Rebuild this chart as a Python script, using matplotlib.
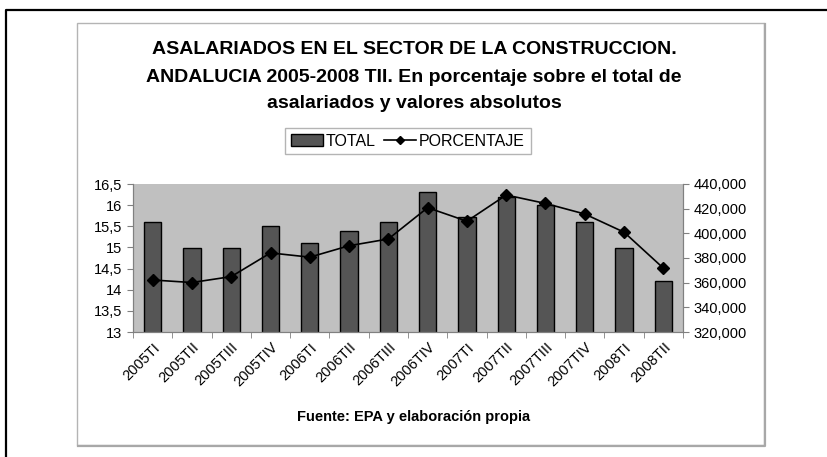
import matplotlib
matplotlib.use("Agg")
import matplotlib.pyplot as plt
from matplotlib.patches import Rectangle
from matplotlib.ticker import FuncFormatter, FixedLocator
from matplotlib.lines import Line2D
import numpy as np

plt.rcParams['font.family'] = ['Liberation Sans', 'DejaVu Sans']

trimestres = ["2005TI", "2005TII", "2005TIII", "2005TIV", "2006TI", "2006TII", "2006TIII",
              "2006TIV", "2007TI", "2007TII", "2007TIII", "2007TIV", "2008TI", "2008TII"]
total = [409000, 388400, 388400, 406000, 392400, 402200, 409000,
         433200, 413000, 429700, 423000, 409000, 388400, 361400]
porcentaje = [14.23, 14.17, 14.31, 14.87, 14.77, 15.04, 15.20,
              15.94, 15.62, 16.24, 16.04, 15.79, 15.36, 14.51]

W, H = 827, 457
fig = plt.figure(figsize=(W / 100, H / 100), dpi=100)

def fx(px):
    return px / W

def fy(py):
    return 1 - py / H

# outer frame (only left and top visible) and inner chart box
fig.lines.append(Line2D([fx(6), fx(6), fx(W)], [fy(H), fy(10), fy(10)],
                        transform=fig.transFigure, color="black", lw=1.6))
fig.patches.append(Rectangle((fx(77), fy(445)), fx(764) - fx(77), fy(23) - fy(445),
                             transform=fig.transFigure, fill=False, ec="#b4b4b4", lw=1.0))
fig.lines.append(Line2D([fx(78), fx(764.5), fx(764.5)], [fy(445.5), fy(445.5), fy(24)],
                        transform=fig.transFigure, color="#a8a8a8", lw=1.6))

ax = fig.add_axes([fx(133), fy(332), fx(683) - fx(133), fy(184) - fy(332)])
ax2 = ax.twinx()
x = np.arange(len(trimestres))

ax.set_facecolor("#c0c0c0")
ax.bar(x, total, width=0.44, color="#555555", edgecolor="black", linewidth=1.0, zorder=2)
ax.set_ylim(320000, 440000)
ax.set_xlim(-0.5, len(trimestres) - 0.5)
ax.set_yticks(np.arange(320000, 440001, 20000))
ax.yaxis.set_major_formatter(FuncFormatter(lambda v, p: f"{int(v):,}"))

ax2.plot(x, porcentaje, color="black", lw=1.2, marker="D", ms=6, zorder=3)
ax2.set_ylim(13, 16.5)
ax2.set_yticks(np.arange(13, 16.51, 0.5))
ax2.yaxis.set_major_formatter(FuncFormatter(lambda v, p: (f"{v:g}").replace(".", ",")))
ax2.patch.set_visible(False)

ax.yaxis.tick_right()
ax2.yaxis.tick_left()

for a in (ax, ax2):
    for s in a.spines.values():
        s.set_color("#808080")
    a.spines["top"].set_visible(False)
    a.tick_params(axis="y", colors="#808080", labelcolor="black", labelsize=10.5, length=4)

ax.set_xticks(x)
ax.set_xticklabels(trimestres, rotation=45, ha="right", rotation_mode="anchor", fontsize=10.5)
ax.tick_params(axis="x", length=0, pad=6)
ax.xaxis.set_minor_locator(FixedLocator(np.arange(-0.5, len(trimestres), 1)))
ax.tick_params(axis="x", which="minor", length=4, color="#808080")

cx = fx(414)
fig.text(cx, fy(50), "ASALARIADOS EN EL SECTOR DE LA CONSTRUCCION.",
         ha="center", va="center", fontsize=14, fontweight="bold")
fig.text(cx, fy(77), "ANDALUCIA 2005-2008 TII. En porcentaje sobre el total de",
         ha="center", va="center", fontsize=14, fontweight="bold")
fig.text(cx, fy(104), "asalariados y valores absolutos",
         ha="center", va="center", fontsize=14, fontweight="bold")

handles = [Rectangle((0, 0), 1, 1, fc="#555555", ec="black", lw=1.0),
           Line2D([], [], color="black", lw=1.2, marker="D", ms=4)]
fig.legend(handles, ["TOTAL", "PORCENTAJE"], loc="center", ncol=2,
           bbox_to_anchor=(fx(408), fy(141)), frameon=True, fancybox=False,
           edgecolor="#b4b4b4", fontsize=11.5, handlelength=2.0, handletextpad=0.2,
           columnspacing=0.5, borderpad=0.35, framealpha=1)

fig.text(cx, fy(417), "Fuente: EPA y elaboración propia",
         ha="center", va="center", fontsize=10.5, fontweight="bold")

fig.savefig("out.png", dpi=100)
